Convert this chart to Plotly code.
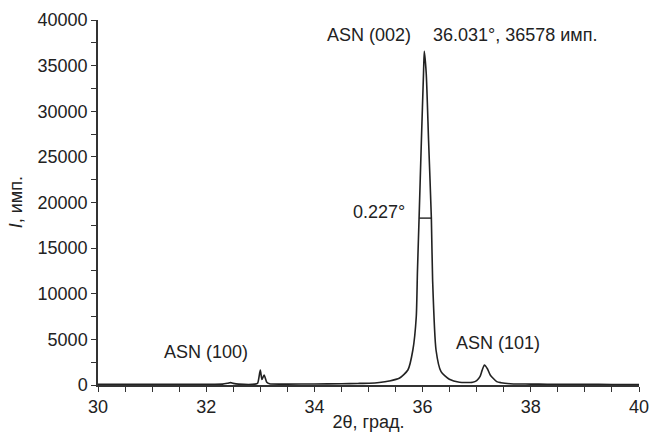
import plotly.graph_objects as go

# 2θ (degrees) and intensity (counts)
two_theta = [30.0, 30.5, 31.0, 31.5, 32.0, 32.3, 32.4, 32.45, 32.5, 32.6, 32.9, 32.95,
             33.0, 33.03, 33.07, 33.12, 33.17, 33.5, 34.0, 34.5, 34.8,
             35.013, 35.2, 35.383, 35.568, 35.728, 35.82, 35.883, 35.905, 35.935,
             35.978, 36.017, 36.031, 36.067, 36.11, 36.162, 36.185, 36.248, 36.341,
             36.494, 36.68, 36.926, 37.0, 37.06, 37.1, 37.143, 37.2, 37.25, 37.37,
             37.45, 37.62, 37.8, 38.0, 38.3, 38.6, 39.0, 39.5, 40.0]
intensity = [80, 70, 70, 80, 90, 100, 200, 260, 180, 100, 100, 200,
             1650, 600, 1100, 300, 130, 100, 110, 140, 170,
             200, 280, 438, 734, 1644, 3836, 7485, 12500, 18289,
             26850, 34160, 36578, 34160, 26850, 18289, 11500, 3836, 1458,
             625, 296, 300, 480, 910, 1600, 2190, 1750, 1100, 370,
             250, 140, 110, 100, 90, 80, 70, 60, 50]

# FWHM marker of the (002) reflection
fwhm_x = [35.935, 36.162]
fwhm_y = [18289, 18289]

x_ticks = [30, 32, 34, 36, 38, 40]
y_ticks = [0, 5000, 10000, 15000, 20000, 25000, 30000, 35000, 40000]

FONT = "Liberation Sans, Arial, sans-serif"
INK = "#222222"
FS = 18

fig = go.Figure()
fig.add_trace(go.Scatter(x=two_theta, y=intensity, mode="lines",
                         line=dict(color=INK, width=1.6, shape="spline", smoothing=0.6),
                         showlegend=False, hoverinfo="skip"))
fig.add_trace(go.Scatter(x=fwhm_x, y=fwhm_y, mode="lines",
                         line=dict(color=INK, width=1.4),
                         showlegend=False, hoverinfo="skip"))

annots = [
    dict(x=32.0, y=3600, text="ASN (100)", xanchor="center", yanchor="middle"),
    dict(x=37.4, y=4600, text="ASN (101)", xanchor="center", yanchor="middle"),
    dict(x=35.0, y=38400, text="ASN (002)", xanchor="center", yanchor="middle"),
    dict(x=36.16, y=38400, text="36.031°, 36578 имп.", xanchor="left", yanchor="middle"),
    dict(x=35.72, y=19000, text="0.227°", xanchor="right", yanchor="middle"),
]
for a in annots:
    fig.add_annotation(**a, xref="x", yref="y", showarrow=False,
                       font=dict(family=FONT, size=FS, color=INK))

# y-axis title placed as rotated text
fig.add_annotation(x=-0.152, y=0.5, xref="paper", yref="paper", text="<i>I</i>, имп.",
                   textangle=-90, showarrow=False, xanchor="center", yanchor="middle",
                   font=dict(family=FONT, size=FS, color=INK))

axis_common = dict(showline=True, linecolor="#333333", linewidth=1.5,
                   ticks="outside", ticklen=5, tickwidth=1.2, tickcolor="#333333",
                   showgrid=False, zeroline=False, automargin=False,
                   tickfont=dict(family=FONT, size=FS, color=INK))

fig.update_xaxes(range=[30, 40], tickvals=x_ticks,
                 minor=dict(dtick=0.5, ticks="outside", ticklen=5, tickcolor="#333333", tickwidth=1.2),
                 title=dict(text="2θ, град.", font=dict(family=FONT, size=FS, color=INK), standoff=0),
                 **axis_common)
fig.update_yaxes(range=[0, 40000], tickvals=y_ticks, tickformat="d",
                 minor=dict(dtick=2500, ticks="outside", ticklen=5, tickcolor="#333333", tickwidth=1.2),
                 **axis_common)

fig.update_layout(width=652, height=432,
                  margin=dict(l=98, r=13, t=20, b=47),
                  paper_bgcolor="white", plot_bgcolor="white")

# remove the page's default body margin / scrollbars so the figure fills the window
fig.write_html("out.html", config={"displayModeBar": False},
               post_script="document.body.style.margin='0';document.body.style.overflow='hidden';"
                           "document.documentElement.style.overflow='hidden';")
